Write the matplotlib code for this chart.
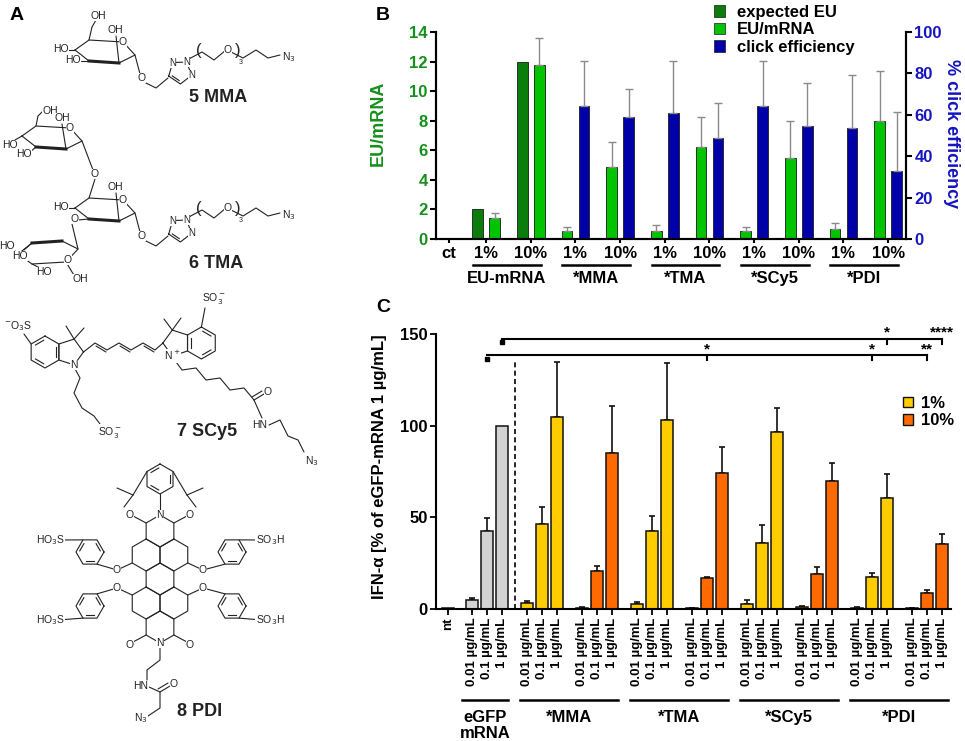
import numpy as np
import matplotlib
matplotlib.use("Agg")
import matplotlib.pyplot as plt
import matplotlib.transforms as mtransforms
from matplotlib.patches import Patch

plt.rcParams["font.family"] = ["Liberation Sans", "DejaVu Sans"]

W, H = 965, 741

# ---------------- panel B data ----------------
b_labels = ["ct", "1%", "10%", "1%", "10%", "1%", "10%", "1%", "10%", "1%", "10%"]
b_groups = ["EU-mRNA", "*MMA", "*TMA", "*SCy5", "*PDI"]
expected_eu = [np.nan, 2.0, 12.0, np.nan, np.nan, np.nan, np.nan, np.nan, np.nan, np.nan, np.nan]
eu_mrna = [np.nan, 1.4, 11.8, 0.52, 4.9, 0.56, 6.2, 0.54, 5.5, 0.68, 7.95]
eu_mrna_err = [0.0, 0.34, 1.8, 0.31, 1.63, 0.39, 2.05, 0.29, 2.48, 0.39, 3.38]
click_eff = [np.nan, np.nan, np.nan, 64.4, 59.0, 60.9, 48.6, 64.4, 54.4, 53.8, 33.0]
click_eff_err = [0.0, 0.0, 0.0, 21.7, 13.6, 25.2, 17.3, 21.7, 21.0, 25.3, 28.4]

# ---------------- panel C data ----------------
c_doses = ["0.01 µg/mL", "0.1 µg/mL", "1 µg/mL"]
c_groups = ["eGFP\nmRNA", "*MMA", "*TMA", "*SCy5", "*PDI"]
nt_value = 0.3
egfp = [4.8, 42.6, 100.0]
egfp_err = [1.0, 7.0, 0.0]
mma_1 = [3.5, 46.3, 104.9]
mma_1_err = [1.0, 9.3, 29.9]
mma_10 = [0.5, 20.8, 85.2]
mma_10_err = [0.4, 2.5, 25.9]
tma_1 = [3.0, 42.8, 103.1]
tma_1_err = [1.0, 8.0, 31.1]
tma_10 = [0.5, 17.1, 74.5]
tma_10_err = [0.3, 0.5, 13.8]
scy5_1 = [2.9, 35.9, 96.9]
scy5_1_err = [2.0, 10.2, 12.8]
scy5_10 = [1.1, 19.3, 70.1]
scy5_10_err = [0.8, 3.7, 9.7]
pdi_1 = [0.7, 17.7, 60.5]
pdi_1_err = [0.6, 1.8, 13.3]
pdi_10 = [0.3, 8.6, 35.3]
pdi_10_err = [0.2, 1.8, 5.5]
# significance brackets: (first bar, [(bar, stars), ...])
sig_upper = (3, [(24, "*"), (27, "****")])
sig_lower = (2, [(14, "*"), (23, "*"), (26, "**")])

DARK_GREEN = "#0B7D0B"
GREEN = "#00C400"
BLUE = "#0000A8"
TXT_GREEN = "#15901A"
TXT_BLUE = "#1515C0"
GREY = "#D2D2D2"
GOLD = "#FFCC00"
ORANGE = "#FF6A00"

fig = plt.figure(figsize=(W / 100, H / 100), dpi=100)


def px_axes(l, t, r, b):
    return fig.add_axes([l / W, 1 - b / H, (r - l) / W, (b - t) / H])


# ======================= panel A (structures) =======================
axa = px_axes(0, 0, 370, 741)
axa.set_xlim(0, 370)
axa.set_ylim(741, 0)
axa.axis("off")
INK = "#222222"
LW = 0.8


def bond(pts, lw=LW):
    pts = np.array(pts, dtype=float)
    axa.plot(pts[:, 0], pts[:, 1], color=INK, lw=lw, solid_capstyle="round")


def atom(x, y, s, fs=7.5):
    axa.text(x, y, s, ha="center", va="center", fontsize=fs, color=INK,
             bbox=dict(fc="white", ec="none", pad=0.2), zorder=3)


def ring(cx, cy, r, n=6, start=90, doubles=()):
    ang = np.deg2rad(start + 360 / n * np.arange(n + 1))
    xs = cx + r * np.cos(ang)
    ys = cy - r * np.sin(ang)
    axa.plot(xs, ys, color=INK, lw=LW)
    c = np.array([cx, cy])
    for i in doubles:
        p = np.array([[xs[i], ys[i]], [xs[i + 1], ys[i + 1]]])
        q = c + (p - c) * 0.78
        d = q[1] - q[0]
        q = np.array([q[0] + 0.12 * d, q[1] - 0.12 * d])
        axa.plot(q[:, 0], q[:, 1], color=INK, lw=LW)
    return np.column_stack([xs[:-1], ys[:-1]])


def chair(x0, y0, flip=False):
    rel = np.array([(0, 8), (14, -2), (48, 0), (60, 13), (44, 21), (14, 19)], dtype=float)
    if flip:
        rel[:, 1] = -rel[:, 1]
    v = rel + [x0, y0]
    closed = np.vstack([v, v[:1]])
    axa.plot(closed[:, 0], closed[:, 1], color=INK, lw=LW)
    axa.plot(v[[5, 4], 0], v[[5, 4], 1], color=INK, lw=2.2)
    return v


def triazole_chain(dy):
    # O-CH2-triazole-(CH2CH2O)3-CH2CH2-N3
    bond([(144, 82 + dy), (156, 88 + dy), (168, 78 + dy)])
    t = ring(180, 72 + dy, 12, n=5, start=200, doubles=(0,))
    for k in (2, 3, 4):
        atom(t[k][0], t[k][1], "N", 7)
    bond([(t[3][0] + 2, t[3][1] - 3), (202, 52 + dy), (214, 60 + dy), (226, 50 + dy)])
    atom(228, 50 + dy, "O", 7.5)
    bond([(231, 52 + dy), (243, 58 + dy), (256, 50 + dy), (268, 58 + dy), (280, 55 + dy)])
    atom(289, 57 + dy, "N$_3$", 7.5)
    axa.text(199, 50 + dy, "(", fontsize=12, ha="center", va="center", color=INK, fontweight="light")
    axa.text(238, 50 + dy, ")", fontsize=12, ha="center", va="center", color=INK, fontweight="light")
    axa.text(241, 62 + dy, "3", fontsize=5, ha="center", va="center", color=INK)


# --- 5 MMA ---
v = chair(75, 42)
bond([v[1], (92, 27), (96, 20)])
atom(98, 16, "OH")
bond([v[4], (116, 36)])
atom(115, 30, "OH")
bond([v[0], (66, 50)])
atom(61, 49, "HO")
bond([v[5], (81, 61)])
atom(73, 60, "HO")
atom(v[2][0], v[2][1], "O")
bond([v[3], (140, 74)])
atom(142, 78, "O")
triazole_chain(0)
axa.text(218, 97, "5 MMA", fontsize=13, fontweight="bold", ha="center", va="center", color=INK)

# --- 6 TMA ---
v1 = chair(22, 128)
bond([v1[1], (38, 116), (44, 110)])
atom(50, 111, "OH")
bond([v1[4], (62, 124)])
atom(62, 118, "OH")
bond([v1[0], (15, 140)])
atom(10, 145, "HO")
bond([v1[5], (30, 152)])
atom(24, 154, "HO")
atom(v1[2][0], v1[2][1], "O")
bond([v1[3], (93, 170)])
atom(95, 174, "O")
v2 = chair(75, 200)
bond([(95, 179), v2[1]])
bond([v2[4], (116, 193)])
atom(115, 187, "OH")
bond([v2[0], (66, 208)])
atom(61, 207, "HO")
atom(v2[2][0], v2[2][1], "O")
bond([v2[5], (78, 220)])
atom(75, 219, "O")
bond([(v2[3][0], v2[3][1]), (140, 232)])
atom(142, 236, "O")
triazole_chain(158)
v3 = chair(18, 262, flip=True)
bond([(72, 224), v3[3]])
bond([v3[0], (12, 248)])
atom(7, 246, "HO")
bond([v3[5], (24, 250)])
atom(20, 256, "HO")
bond([v3[1], (40, 268)])
atom(44, 272, "HO")
bond([v3[2], (72, 272), (76, 278)])
atom(80, 279, "OH")
atom(v3[2][0] + 2, v3[2][1] - 2, "O")
axa.text(216, 264, "6 TMA", fontsize=13, fontweight="bold", ha="center", va="center", color=INK)

# --- 7 SCy5 ---
bl = ring(45, 352, 16, doubles=(0, 2, 4))
pl = ring(69.9, 352, 13.6, n=5, start=0)
atom(pl[4][0], pl[4][1], "N")
bond([pl[1], (66, 326)])
bond([pl[1], (84, 328)])
bond([bl[1], (24, 334)])
atom(18, 326, "$^{-}$O$_3$S")
bond([(pl[4][0] + 1, pl[4][1] + 4), (80, 378), (74, 393), (82, 408), (94, 416), (100, 424)])
atom(110, 432, "SO$_3^-$")
bond([pl[0], (95, 343), (107, 350), (119, 343), (131, 350), (143, 343), (155, 350), (163, 343)])
bond([(96, 346), (106, 352)])
bond([(120, 346), (130, 352)])
bond([(144, 346), (154, 352)])
pr = ring(176.5, 343, 13.6, n=5, start=180)
br = ring(201.4, 343, 16, doubles=(1, 3, 5))
atom(pr[1][0], pr[1][1], "N$^+$")
bond([pr[4], (164, 319)])
bond([pr[4], (181, 318)])
bond([br[0], (205, 308)])
atom(214, 298, "SO$_3^-$")
bond([(pr[1][0] + 3, pr[1][1] + 5), (182, 370), (196, 368), (206, 380), (220, 378),
      (230, 390), (244, 388), (254, 400)])
bond([(254, 400), (264, 394)])
bond([(252, 397), (262, 391)])
atom(268, 392, "O")
bond([(254, 400), (262, 418)])
atom(260, 425, "HN")
bond([(269, 425), (280, 420), (288, 436), (298, 440), (304, 452)])
atom(312, 461, "N$_3$")
axa.text(207, 432, "7 SCy5", fontsize=13, fontweight="bold", ha="center", va="center", color=INK)

# --- 8 PDI ---
r = 16
tb = ring(160, 479, 15, doubles=(0, 2, 4))
bond([tb[1], (133, 495)])
bond([(133, 495), (117, 488)])
bond([(133, 495), (124, 507)])
bond([tb[5], (187, 495)])
bond([(187, 495), (203, 488)])
bond([(187, 495), (196, 507)])
bond([tb[3], (160, 510)])
core = [(160, 531), (146.1, 555), (173.9, 555), (160, 579),
        (146.1, 603), (173.9, 603), (160, 627)]
rings = [ring(cx, cy, r) for cx, cy in core]
atom(160, 515, "N")
atom(160, 643, "N")
bond([rings[0][1], (133, 516)])
atom(130, 515, "O")
bond([rings[0][5], (187, 516)])
atom(190, 515, "O")
bond([rings[6][2], (133, 642)])
atom(130, 645, "O")
bond([rings[6][4], (187, 642)])
atom(190, 645, "O")
for (ox, oy), (px, py), (sx, sy), lab, rv in [
        ((117, 570), (90, 552), (50, 540), "HO$_3$S", rings[1][2]),
        ((203, 570), (232, 552), (270, 540), "SO$_3$H", rings[2][4]),
        ((117, 588), (90, 606), (50, 620), "HO$_3$S", rings[4][1]),
        ((203, 588), (232, 606), (270, 620), "SO$_3$H", rings[5][5])]:
    ph = ring(px, py, 14, start=0, doubles=(0, 2, 4))
    bond([rv, (ox, oy)])
    near = ph[np.argmin(np.hypot(ph[:, 0] - ox, ph[:, 1] - oy))]
    far = ph[np.argmax(np.hypot(ph[:, 0] - ox, ph[:, 1] - oy))]
    bond([(ox, oy), near])
    bond([far, (sx + (8 if sx < px else -8), sy)])
    atom(ox, oy, "O")
    atom(sx, sy, lab)
bond([(160, 648), (160, 660), (147, 670), (147, 680)])
atom(141, 686, "HN")
bond([(149, 687), (160, 692), (160, 708), (148, 716)])
bond([(160, 692), (170, 686)])
bond([(158, 689), (168, 683)])
atom(174, 684, "O")
atom(141, 718, "N$_3$")
axa.text(200, 712, "8 PDI", fontsize=13, fontweight="bold", ha="center", va="center", color=INK)

fig.text(10 / W, 1 - 15 / H, "A", fontsize=14, fontweight="bold", va="center")

# ======================= panel B =======================
axb = px_axes(436, 32, 906, 239)
axb2 = axb.twinx()
x = np.r_[0.17, np.arange(1, len(b_labels))]
off, bw = 0.19, 0.24
expected = np.array(expected_eu)
eu = np.array(eu_mrna)
eu_err = np.array(eu_mrna_err)
ce = np.array(click_eff)
ce_err = np.array(click_eff_err)
has_exp = ~np.isnan(expected)
has_eu = ~np.isnan(eu)
has_ce = ~np.isnan(ce)
eu_pos = np.where(has_exp, x + off, x - off)

axb.bar(x[has_exp] - off, expected[has_exp], bw, color=DARK_GREEN, edgecolor="#1a1a1a", lw=0.6)
axb.bar(eu_pos[has_eu], eu[has_eu], bw, color=GREEN, edgecolor="#1a1a1a", lw=0.6)
axb.errorbar(eu_pos[has_eu], eu[has_eu], yerr=[np.zeros(has_eu.sum()), eu_err[has_eu]],
             fmt="none", ecolor="#8a8a8a", elinewidth=1, capsize=3, capthick=1)
axb2.bar(x[has_ce] + off, ce[has_ce], bw, color=BLUE, edgecolor="#1a1a1a", lw=0.6)
axb2.errorbar(x[has_ce] + off, ce[has_ce], yerr=[np.zeros(has_ce.sum()), ce_err[has_ce]],
              fmt="none", ecolor="#8a8a8a", elinewidth=1, capsize=3, capthick=1)

axb.set_xlim(-0.12, 10.4)
axb.set_ylim(0, 14)
axb2.set_ylim(0, 100)
axb.set_yticks(np.arange(0, 15, 2))
axb2.set_yticks(np.arange(0, 101, 20))
axb.set_xticks(x, b_labels)
for lab in axb.get_xticklabels():
    lab.set_fontweight("bold")
    lab.set_fontsize(12)
for lab in axb.get_yticklabels():
    lab.set_fontweight("bold")
    lab.set_fontsize(12)
    lab.set_color(TXT_GREEN)
for lab in axb2.get_yticklabels():
    lab.set_fontweight("bold")
    lab.set_fontsize(12)
    lab.set_color(TXT_BLUE)
for a in (axb, axb2):
    a.spines["top"].set_visible(False)
    for s in ("left", "right", "bottom"):
        a.spines[s].set_linewidth(1.5)
    a.tick_params(width=1.5, length=4, pad=2)
axb.tick_params(axis="x", length=3)
axb.set_ylabel("EU/mRNA", color=TXT_GREEN, fontsize=13, fontweight="bold")
axb.yaxis.set_label_coords(-0.104, 0.56)
axb2.set_ylabel("% click efficiency", color=TXT_BLUE, fontsize=13, fontweight="bold",
                rotation=270, va="center")
axb2.yaxis.set_label_coords(1.096, 0.51)

tb_ = mtransforms.blended_transform_factory(axb.transData, axb.transAxes)
for k, g in enumerate(b_groups):
    x0, x1 = 1 + 2 * k - 0.29, 2 + 2 * k + 0.22
    axb.plot([x0, x1], [-0.125, -0.125], color="k", lw=1.8, transform=tb_, clip_on=False)
    axb.text((x0 + x1) / 2, -0.19, g, transform=tb_, ha="center", va="center",
             fontsize=12, fontweight="bold")

fig.legend(handles=[Patch(fc=DARK_GREEN, ec="#1a1a1a", lw=0.5),
                    Patch(fc=GREEN, ec="#1a1a1a", lw=0.5),
                    Patch(fc=BLUE, ec="#1a1a1a", lw=0.5)],
           labels=["expected EU", "EU/mRNA", "click efficiency"],
           loc="upper left", bbox_to_anchor=(707 / W, 1 + 2 / H), frameon=False,
           prop=dict(weight="bold", size=12), handlelength=0.7, handleheight=0.7,
           handletextpad=0.7, labelspacing=0.15, borderaxespad=0)
fig.text(376 / W, 1 - 16 / H, "B", fontsize=14, fontweight="bold", va="center")

# ======================= panel C =======================
axc = px_axes(436, 334.3, 951, 609)
triplets = [(egfp, egfp_err, GREY), (mma_1, mma_1_err, GOLD), (mma_10, mma_10_err, ORANGE),
            (tma_1, tma_1_err, GOLD), (tma_10, tma_10_err, ORANGE),
            (scy5_1, scy5_1_err, GOLD), (scy5_10, scy5_10_err, ORANGE),
            (pdi_1, pdi_1_err, GOLD), (pdi_10, pdi_10_err, ORANGE)]
pos = [0.0]
vals = [nt_value]
errs = [0.0]
cols = [GREY]
for k, (v_, e_, c_) in enumerate(triplets):
    start = 1.6 + 3.667 * k
    pos += [start, start + 1, start + 2]
    vals += list(v_)
    errs += list(e_)
    cols += [c_] * 3
pos = np.array(pos)
vals = np.array(vals)
errs = np.array(errs)

axc.bar(pos, vals, 0.75, color=cols, edgecolor="#111111", lw=1.1, zorder=2)
m = errs > 0
axc.errorbar(pos[m], vals[m], yerr=[np.zeros(m.sum()), errs[m]], fmt="none",
             ecolor="#111111", elinewidth=1.2, capsize=2.5, capthick=1.2, zorder=1)

xd = (pos[3] + pos[4]) / 2
axc.plot([xd, xd], [0, 135], color="k", lw=1.2, ls=(0, (3, 2)))

for (first, marks), yb in [(sig_upper, 147.6), (sig_lower, 138.6)]:
    xs_ = pos[first]
    xe_ = pos[marks[-1][0]]
    axc.plot([xs_, xe_], [yb, yb], color="k", lw=1.5, clip_on=False)
    axc.plot([xs_], [yb - 2], "s", color="k", ms=3.5, clip_on=False)
    for bi, stars in marks:
        axc.plot([pos[bi], pos[bi]], [yb, yb - 2.8], color="k", lw=1.5, clip_on=False)
        axc.text(pos[bi], yb - 0.5, stars, ha="center", va="bottom", fontsize=11,
                 fontweight="bold", clip_on=False)

axc.set_xlim(-0.8, 33.53)
axc.set_ylim(0, 150)
axc.set_yticks([0, 50, 100, 150])
axc.set_xticks(pos, ["nt"] + c_doses * 9)
for lab in axc.get_xticklabels():
    lab.set_rotation(90)
    lab.set_fontweight("bold")
    lab.set_fontsize(9.5)
    lab.set_va("top")
    lab.set_ha("center")
for lab in axc.get_yticklabels():
    lab.set_fontweight("bold")
    lab.set_fontsize(12)
axc.spines["top"].set_visible(False)
axc.spines["right"].set_visible(False)
for s in ("left", "bottom"):
    axc.spines[s].set_linewidth(1.5)
axc.tick_params(width=1.3, length=4, pad=2)
axc.set_ylabel("IFN-α [% of eGFP-mRNA 1 µg/mL]", fontsize=12, fontweight="bold")
axc.yaxis.set_label_coords(-0.095, 0.517)

tc = mtransforms.blended_transform_factory(axc.transData, axc.transAxes)
for k, g in enumerate(c_groups):
    if k == 0:
        x0, x1 = pos[1] - 0.67, pos[3] + 0.4
    else:
        x0, x1 = pos[1 + 6 * k - 3] - 0.47, pos[6 * k + 3] + 0.4
    axc.plot([x0, x1], [-0.331, -0.331], color="k", lw=1.8, transform=tc, clip_on=False)
    axc.text((x0 + x1) / 2, -0.368, g, transform=tc, ha="center", va="top",
             fontsize=12, fontweight="bold", linespacing=1.05)

axc.legend(handles=[Patch(fc=GOLD, ec="#111111", lw=1), Patch(fc=ORANGE, ec="#111111", lw=1)],
           labels=["1%", "10%"], loc="upper left",
           bbox_to_anchor=((903 - 436) / 515, (609 - 396) / 274.7), frameon=False,
           prop=dict(weight="bold", size=12), handlelength=0.6, handleheight=0.6,
           handletextpad=0.5, labelspacing=0.15, borderaxespad=0, borderpad=0)
fig.text(376 / W, 1 - 307 / H, "C", fontsize=14, fontweight="bold", va="center")

fig.savefig("out.png", dpi=100)
